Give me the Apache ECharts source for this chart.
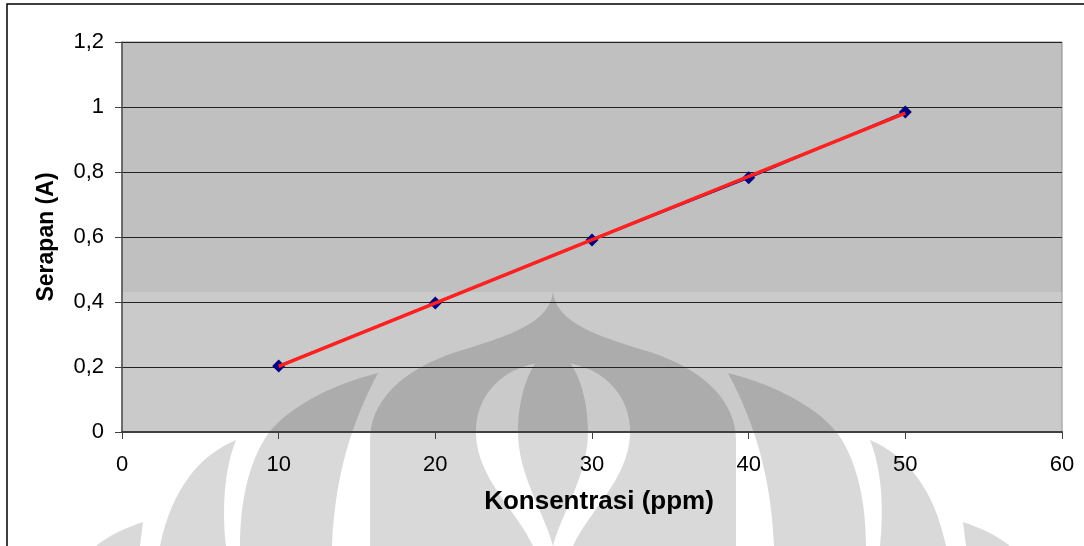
<!DOCTYPE html>
<html>
<head>
<meta charset="utf-8">
<script src="https://cdn.jsdelivr.net/npm/echarts@6/dist/echarts.min.js"></script>
<style>
  html, body { margin: 0; padding: 0; background: #fff; }
  #chart { width: 1084px; height: 546px; }
</style>
</head>
<body>
<div id="chart"></div>
<script>
// data
let konsentrasi = [10, 20, 30, 40, 50];
let serapan = [0.203, 0.397, 0.591, 0.782, 0.985];
// linear trend line end points
let trendX = [10, 50];
let trendY = [0.202, 0.981];
let xTicks = [0, 10, 20, 30, 40, 50, 60];
let yTicks = [0, 0.2, 0.4, 0.6, 0.8, 1, 1.2];

let font = "'Liberation Sans', Arial, sans-serif";

// faint logo watermark behind the chart (left half, mirrored below)
let wmCentre = 'M553,292 C556,322 596,336 650,352 C705,370 736,402 736,440 L736,546 L370,546 L370,440 C370,402 401,370 456,352 C510,336 550,322 553,292 Z ' +
    'M553,362 C505,362 474,395 476,435 C478,480 518,512 533,546 L573,546 C588,512 628,480 630,435 C632,395 601,362 553,362 Z ' +
    'M553,350 C575,355 588,395 588,432 C588,475 562,512 553,546 C544,512 518,475 518,432 C518,395 531,355 553,350 Z ';
let wmLeft = 'M378,373 C330,385 282,410 264,440 C246,470 240,510 240,546 L332,546 C334,500 342,440 378,373 Z ' +
    'M236,440 C200,455 172,488 160,546 L226,546 C222,510 224,470 236,440 Z ' +
    'M143,522 C125,528 108,536 96,546 L140,546 Z ';

function mirror(d) {
    return d.replace(/(\d+(?:\.\d+)?),(\d+(?:\.\d+)?)/g, function (m, x, y) {
        return (1106 - parseFloat(x)) + ',' + y;
    });
}

let chart = echarts.init(document.getElementById('chart'));

let option = {
    animation: false,
    backgroundColor: '#ffffff',
    grid: {
        left: 122,
        top: 42,
        width: 940,
        height: 390,
        show: true,
        backgroundColor: '#c0c0c0',
        borderColor: '#8c8c8c',
        borderWidth: 1,
        z: 0
    },
    graphic: [
        {
            type: 'rect',
            z: 50,
            silent: true,
            shape: { x: 7, y: 4, width: 1300, height: 800 },
            style: { fill: 'none', stroke: '#000000', lineWidth: 1.5 }
        }
    ],
    xAxis: {
        type: 'value',
        min: xTicks[0],
        max: xTicks[xTicks.length - 1],
        interval: 10,
        z: 2,
        name: 'Konsentrasi (ppm)',
        nameLocation: 'middle',
        nameGap: 57,
        nameTextStyle: { fontFamily: font, fontSize: 26, fontWeight: 'bold', color: '#000', padding: [0, 0, 0, 14] },
        axisLine: { show: true, onZero: false, lineStyle: { color: '#404040', width: 2 } },
        axisTick: { show: true, length: 7, lineStyle: { color: '#404040', width: 1 } },
        axisLabel: { fontFamily: font, fontSize: 22, color: '#000', margin: 22 },
        splitLine: { show: false }
    },
    yAxis: {
        type: 'value',
        min: yTicks[0],
        max: yTicks[yTicks.length - 1],
        interval: 0.2,
        z: 2,
        name: 'Serapan (A)',
        nameLocation: 'middle',
        nameRotate: 90,
        nameGap: 64,
        nameTextStyle: { fontFamily: font, fontSize: 23, fontWeight: 'bold', color: '#000' },
        axisLine: { show: true, onZero: false, lineStyle: { color: '#505050', width: 1.5 } },
        axisTick: { show: true, length: 7, lineStyle: { color: '#404040', width: 1 } },
        axisLabel: {
            fontFamily: font, fontSize: 22, color: '#000', margin: 18,
            formatter: function (v) { return String(+v.toFixed(1)).replace('.', ','); }
        },
        splitLine: { show: true, lineStyle: { color: '#222222', width: 1 } }
    },
    series: [
        {
            // watermark layer, sits under the axes
            type: 'custom',
            coordinateSystem: 'none',
            z: 1,
            silent: true,
            clip: false,
            data: [0],
            renderItem: function () {
                return {
                    type: 'group',
                    children: [
                        {
                            type: 'rect',
                            shape: { x: 122, y: 292, width: 940, height: 140 },
                            style: { fill: '#ffffff', opacity: 0.16 }
                        },
                        {
                            type: 'path',
                            shape: { pathData: wmCentre + wmLeft + mirror(wmLeft) },
                            style: { fill: '#000000', opacity: 0.15 }
                        }
                    ]
                };
            }
        },
        {
            name: 'Serapan',
            type: 'line',
            z: 3,
            data: konsentrasi.map((x, i) => [x, serapan[i]]),
            symbol: 'diamond',
            symbolSize: 13,
            itemStyle: { color: '#000080' },
            lineStyle: { color: '#000080', width: 2 }
        },
        {
            name: 'Linear',
            type: 'line',
            z: 4,
            data: trendX.map((x, i) => [x, trendY[i]]),
            symbol: 'none',
            lineStyle: { color: '#ff2020', width: 3.5 }
        }
    ]
};
chart.setOption(option);
</script>
</body>
</html>
